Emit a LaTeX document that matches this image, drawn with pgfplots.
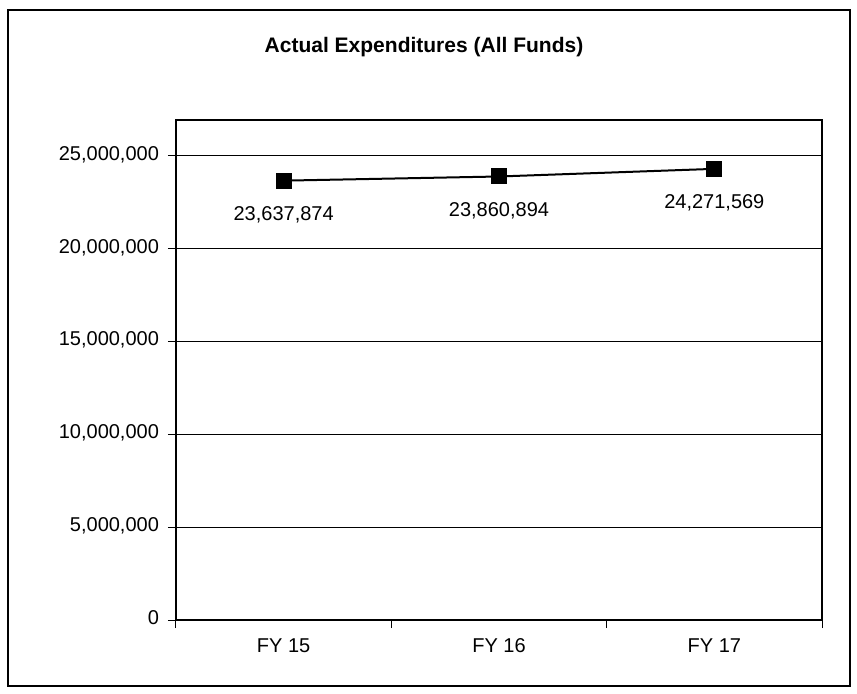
\documentclass[border=0pt]{standalone}
\usepackage{pgfplots}
\pgfplotsset{compat=1.18}
\usepackage{fontspec}
\setmainfont{Liberation Sans}
\begin{document}
\begin{tikzpicture}
\path[use as bounding box] (-88pt,-36.5pt) rectangle (340.5pt,310pt);
\draw[black, line width=0.7pt] (-84pt,-33pt) rectangle (337pt,305pt);
\node[font=\bfseries\fontsize{10.5}{12}\selectfont] at (124pt,286.5pt) {Actual Expenditures (All Funds)};
\begin{axis}[
  at={(0,0)}, anchor=south west,
  scale only axis,
  width=323pt, height=250pt,
  xmin=-0.5, xmax=2.5,
  ymin=0, ymax=26.9e6,
  xtick={-0.5,0.5,1.5,2.5},
  xticklabels={},
  extra x ticks={0,1,2},
  extra x tick labels={FY 15,FY 16,FY 17},
  extra x tick style={major tick length=0pt, grid=none},
  ytick={0,5000000,10000000,15000000,20000000,25000000},
  ymajorgrids,
  grid style={black, line width=0.5pt},
  axis line style={black, line width=0.7pt},
  tick style={black, line width=0.5pt},
  tick align=outside,
  major tick length=4pt,
  xtick pos=bottom, ytick pos=left,
  scaled y ticks=false,
  /pgf/number format/fixed,
  /pgf/number format/1000 sep={,},
  /pgf/number format/assume math mode=true,
  ticklabel style={font=\fontsize{10}{12}\selectfont},
  typeset ticklabels with strut,
  yticklabel style={xshift=-1pt},
  xticklabel style={yshift=-4.5pt},
  nodes near coords,
  point meta=explicit symbolic,
  every node near coord/.append style={anchor=north, yshift=-9pt, font=\fontsize{10}{12}\selectfont, text=black, text height=7pt, text depth=2pt},
  clip=false,
]
\addplot[black, line width=1pt, mark=square*, mark size=3.5pt, mark options={fill=black}]
  coordinates {(0,23637874)[{23,637,874}] (1,23860894)[{23,860,894}] (2,24271569)[{24,271,569}]};
\end{axis}
\end{tikzpicture}
\end{document}
